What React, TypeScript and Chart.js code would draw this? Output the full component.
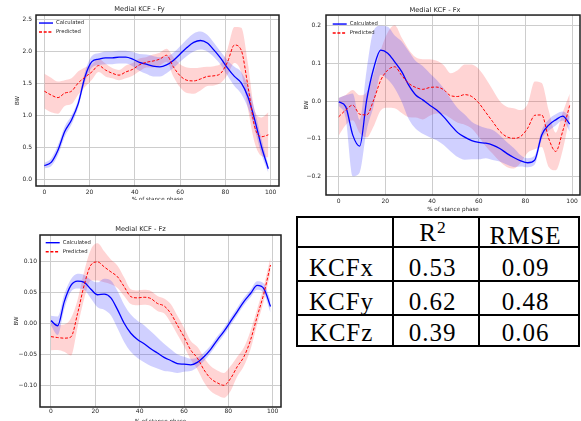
import React, { useEffect, useRef } from "react";
import { Chart, registerables } from "chart.js";

Chart.register(...registerables);

// ---------- data (x = % of stance phase) ----------
const stance = [0, 3, 6, 9, 12, 15, 18, 21, 24, 27, 30, 33, 36, 39, 42, 45, 48, 51, 54, 57, 60, 63, 66, 69, 72, 75, 78, 81, 84, 87, 90, 93, 96, 99];
const xTicks = [0, 20, 40, 60, 80, 100];

const fyCalcMean = [0.22, 0.27, 0.46, 0.75, 0.93, 1.19, 1.61, 1.84, 1.88, 1.9, 1.9, 1.91, 1.91, 1.88, 1.83, 1.8, 1.77, 1.76, 1.79, 1.86, 1.96, 2.06, 2.14, 2.17, 2.13, 2.02, 1.89, 1.74, 1.61, 1.51, 1.29, 0.93, 0.51, 0.17];
const fyCalcSd = [0.04, 0.06, 0.08, 0.08, 0.07, 0.06, 0.08, 0.09, 0.09, 0.1, 0.1, 0.1, 0.1, 0.11, 0.13, 0.15, 0.16, 0.15, 0.13, 0.12, 0.12, 0.13, 0.14, 0.14, 0.13, 0.11, 0.1, 0.12, 0.15, 0.17, 0.17, 0.15, 0.12, 0.06];
const fyPredMean = [1.38, 1.32, 1.28, 1.35, 1.38, 1.51, 1.6, 1.68, 1.78, 1.71, 1.66, 1.63, 1.68, 1.72, 1.79, 1.83, 1.85, 1.88, 1.94, 1.76, 1.62, 1.55, 1.54, 1.57, 1.61, 1.62, 1.66, 1.84, 2.1, 2.02, 1.45, 0.82, 0.67, 0.7];
const fyPredSd = [0.27, 0.27, 0.25, 0.2, 0.2, 0.18, 0.15, 0.12, 0.1, 0.1, 0.08, 0.08, 0.1, 0.1, 0.1, 0.08, 0.1, 0.1, 0.1, 0.15, 0.18, 0.2, 0.2, 0.18, 0.15, 0.15, 0.15, 0.2, 0.28, 0.35, 0.35, 0.25, 0.3, 0.35];
const fyTicks = [0, 0.5, 1, 1.5, 2, 2.5];

const fxCalcMean = [-0.002, -0.015, -0.09, -0.12, 0.003, 0.087, 0.135, 0.127, 0.104, 0.078, 0.042, 0.016, 0.003, -0.011, -0.024, -0.042, -0.064, -0.084, -0.096, -0.105, -0.11, -0.112, -0.117, -0.126, -0.139, -0.15, -0.159, -0.164, -0.157, -0.09, -0.064, -0.05, -0.04, -0.061];
const fxCalcSd = [0.01, 0.03, 0.11, 0.07, 0.08, 0.1, 0.065, 0.07, 0.07, 0.08, 0.09, 0.09, 0.09, 0.085, 0.08, 0.075, 0.07, 0.065, 0.06, 0.05, 0.045, 0.04, 0.04, 0.035, 0.03, 0.025, 0.015, 0.012, 0.012, 0.012, 0.015, 0.015, 0.012, 0.02];
const fxPredMean = [-0.042, -0.024, -0.011, -0.035, -0.037, 0.003, 0.055, 0.082, 0.091, 0.068, 0.047, 0.036, 0.031, 0.036, 0.037, 0.03, 0.014, 0.012, 0.017, 0.012, -0.005, -0.03, -0.055, -0.08, -0.095, -0.099, -0.094, -0.072, -0.038, -0.037, -0.1, -0.134, -0.08, -0.011];
const fxPredSd = [0.05, 0.04, 0.04, 0.05, 0.06, 0.07, 0.08, 0.1, 0.11, 0.1, 0.09, 0.08, 0.08, 0.075, 0.07, 0.065, 0.06, 0.07, 0.08, 0.085, 0.09, 0.09, 0.085, 0.08, 0.08, 0.08, 0.07, 0.065, 0.09, 0.085, 0.075, 0.05, 0.05, 0.03];
const fxTicks = [-0.2, -0.1, 0, 0.1, 0.2];

const fzCalcMean = [0.0043, -0.004, 0.035, 0.061, 0.068, 0.066, 0.055, 0.046, 0.047, 0.041, 0.022, 0.0, -0.016, -0.026, -0.033, -0.041, -0.048, -0.055, -0.06, -0.065, -0.066, -0.067, -0.063, -0.054, -0.042, -0.027, -0.013, 0.003, 0.019, 0.035, 0.048, 0.061, 0.056, 0.027];
const fzCalcSd = [0.008, 0.015, 0.012, 0.01, 0.012, 0.012, 0.015, 0.02, 0.025, 0.028, 0.03, 0.03, 0.03, 0.03, 0.03, 0.028, 0.025, 0.022, 0.018, 0.015, 0.012, 0.01, 0.008, 0.007, 0.006, 0.006, 0.006, 0.006, 0.006, 0.006, 0.006, 0.007, 0.008, 0.01];
const fzPredMean = [-0.0215, -0.023, -0.024, -0.022, 0.016, 0.062, 0.094, 0.099, 0.091, 0.083, 0.075, 0.059, 0.043, 0.041, 0.042, 0.04, 0.032, 0.028, 0.016, -0.003, -0.022, -0.043, -0.056, -0.075, -0.089, -0.096, -0.1, -0.089, -0.07, -0.054, -0.027, 0.011, 0.048, 0.094];
const fzPredSd = [0.022, 0.02, 0.022, 0.03, 0.022, 0.022, 0.025, 0.03, 0.025, 0.02, 0.018, 0.015, 0.012, 0.012, 0.012, 0.012, 0.012, 0.012, 0.015, 0.015, 0.015, 0.015, 0.018, 0.02, 0.02, 0.02, 0.02, 0.02, 0.016, 0.015, 0.015, 0.012, 0.012, 0.012];
const fzTicks = [-0.1, -0.05, 0, 0.05, 0.1];

const tableRowNames = ["KCFx", "KCFy", "KCFz"];
const r2Values = ["0.53", "0.62", "0.39"];
const rmseValues = ["0.09", "0.48", "0.06"];

// ---------- layout / style ----------
const FONT = '"DejaVu Sans", sans-serif';
const TEXT = "#262626";

type Spec = {
  title: string;
  calcMean: number[]; calcSd: number[]; predMean: number[]; predSd: number[];
  yTicks: number[]; decimals: number;
  xMin: number; xMax: number; yMin: number; yMax: number;
  left: number; top: number; W: number; H: number;
  plot: { l: number; t: number; r: number; b: number };
  titlePad: { top: number; bottom: number };
  yTickPad: number; xTickPad: number; yTitlePad: number; xTitlePadBottom: number;
  legendDx: number; legendDy: number; z: number;
};

const specs: Spec[] = [
  {
    title: "Medial KCF - Fy", calcMean: fyCalcMean, calcSd: fyCalcSd, predMean: fyPredMean, predSd: fyPredSd,
    yTicks: fyTicks, decimals: 1, xMin: -3.7, xMax: 103.7, yMin: -0.098, yMax: 2.567,
    left: 0, top: 0, W: 290, H: 210, plot: { l: 36, t: 15, r: 279, b: 186 },
    titlePad: { top: 5, bottom: 2 }, yTickPad: 4, xTickPad: 2.4, yTitlePad: 14, xTitlePadBottom: 6.6,
    legendDx: 3, legendDy: 8, z: 0,
  },
  {
    title: "Medial KCF - Fx", calcMean: fxCalcMean, calcSd: fxCalcSd, predMean: fxPredMean, predSd: fxPredSd,
    yTicks: fxTicks, decimals: 1, xMin: -5.44, xMax: 103.4, yMin: -0.2497, yMax: 0.2284,
    left: 290, top: 0, W: 291, H: 215, plot: { l: 36, t: 15, r: 290, b: 195 },
    titlePad: { top: 6, bottom: 1 }, yTickPad: 5, xTickPad: 3, yTitlePad: 12.8, xTitlePadBottom: 2.3,
    legendDx: 6.7, legendDy: 9, z: 0,
  },
  {
    title: "Medial KCF - Fz", calcMean: fzCalcMean, calcSd: fzCalcSd, predMean: fzPredMean, predSd: fzPredSd,
    yTicks: fzTicks, decimals: 2, xMin: -4.96, xMax: 103.74, yMin: -0.135, yMax: 0.1424,
    left: 0, top: 200, W: 290, H: 230, plot: { l: 40, t: 35, r: 281, b: 207 },
    titlePad: { top: 25.3, bottom: 1.66 }, yTickPad: 3, xTickPad: 1, yTitlePad: 13, xTitlePadBottom: 5.3,
    legendDx: 5.7, legendDy: 7.7, z: 1,
  },
];

const fmt = (v: number, d: number) => {
  const s = Math.abs(v) < 1e-9 ? (0).toFixed(d) : v.toFixed(d);
  return s.replace("-", "\u2212");
};

function buildConfig(s: Spec): any {
  const pts = (arr: number[]) => stance.map((x, i) => ({ x, y: arr[i] }));
  const band = (m: number[], sd: number[], sign: number) => stance.map((x, i) => ({ x, y: m[i] + sign * sd[i] }));
  const common = { pointRadius: 0, cubicInterpolationMode: "monotone" as const };

  const frameLegend = {
    id: "frameLegend",
    afterDraw(chart: any) {
      const { ctx, chartArea: a } = chart;
      ctx.save();
      ctx.strokeStyle = "#1e1e1e";
      ctx.lineWidth = 1.5;
      ctx.strokeRect(a.left, a.top, a.right - a.left, a.bottom - a.top);
      const items = [
        { ds: chart.data.datasets[1], dash: [] as number[] },
        { ds: chart.data.datasets[0], dash: [3, 1.7] },
      ];
      const x0 = a.left + s.legendDx;
      items.forEach((it, i) => {
        const y = a.top + s.legendDy + i * 9;
        ctx.beginPath();
        ctx.setLineDash(it.dash);
        ctx.strokeStyle = it.ds.borderColor;
        ctx.lineWidth = 1.4;
        ctx.moveTo(x0, y);
        ctx.lineTo(x0 + 14, y);
        ctx.stroke();
        ctx.setLineDash([]);
        ctx.fillStyle = TEXT;
        ctx.font = `5.3px ${FONT}`;
        ctx.textAlign = "left";
        ctx.textBaseline = "middle";
        ctx.fillText(it.ds.label, x0 + 17, y);
      });
      ctx.restore();
    },
  };

  const grid = { color: "#cdcdcd", lineWidth: 1, drawTicks: false };
  const tickFont = { family: FONT, size: 6 };
  const labelFont = { family: FONT, size: 5.6 };

  return {
    type: "line",
    data: {
      datasets: [
        { label: "Predicted", data: pts(s.predMean), borderColor: "#ff0000", borderWidth: 1, borderDash: [3, 1.7], fill: false, ...common },
        { label: "Calculated", data: pts(s.calcMean), borderColor: "#0000ff", borderWidth: 1.3, fill: false, ...common },
        { label: "calc+sd", data: band(s.calcMean, s.calcSd, 1), borderColor: "transparent", borderWidth: 0, fill: false, ...common },
        { label: "calc-sd", data: band(s.calcMean, s.calcSd, -1), borderColor: "transparent", borderWidth: 0, fill: 2, backgroundColor: "rgba(40,40,255,0.22)", ...common },
        { label: "pred+sd", data: band(s.predMean, s.predSd, 1), borderColor: "transparent", borderWidth: 0, fill: false, ...common },
        { label: "pred-sd", data: band(s.predMean, s.predSd, -1), borderColor: "transparent", borderWidth: 0, fill: 4, backgroundColor: "rgba(255,40,40,0.2)", ...common },
      ],
    },
    options: {
      responsive: false,
      animation: false,
      devicePixelRatio: 1,
      layout: { padding: { left: 0, top: 0, bottom: 0, right: s.W - s.plot.r } },
      plugins: {
        legend: { display: false },
        tooltip: { enabled: false },
        title: {
          display: true, text: s.title, color: TEXT,
          font: { family: FONT, size: 6.7, weight: "normal", lineHeight: 1.2 },
          padding: s.titlePad,
        },
      },
      scales: {
        x: {
          type: "linear", min: s.xMin, max: s.xMax,
          afterBuildTicks: (sc: any) => { sc.ticks = xTicks.map((v) => ({ value: v })); },
          afterFit: (sc: any) => { sc.height = s.H - s.plot.b; },
          grid, border: { display: false },
          ticks: { padding: s.xTickPad, color: TEXT, font: tickFont, maxRotation: 0, autoSkip: false, callback: (v: any) => String(v) },
          title: { display: true, text: "% of stance phase", color: TEXT, font: labelFont, padding: { top: 0, bottom: s.xTitlePadBottom } },
        },
        y: {
          type: "linear", min: s.yMin, max: s.yMax,
          afterBuildTicks: (sc: any) => { sc.ticks = s.yTicks.map((v) => ({ value: v })); },
          afterFit: (sc: any) => { sc.width = s.plot.l; },
          grid, border: { display: false },
          ticks: { padding: s.yTickPad, color: TEXT, font: tickFont, autoSkip: false, callback: (v: any) => fmt(Number(v), s.decimals) },
          title: { display: true, text: "BW", color: TEXT, font: labelFont, padding: { top: s.yTitlePad, bottom: 0 } },
        },
      },
    },
    plugins: [frameLegend],
  };
}

function KcfChart({ spec }: { spec: Spec }) {
  const ref = useRef<HTMLCanvasElement>(null);
  useEffect(() => {
    const chart = new Chart(ref.current as HTMLCanvasElement, buildConfig(spec));
    return () => chart.destroy();
  }, [spec]);
  return (
    <canvas
      ref={ref}
      width={spec.W}
      height={spec.H}
      style={{ position: "absolute", left: spec.left, top: spec.top, width: spec.W, height: spec.H, background: "#fff", zIndex: spec.z, display: "block" }}
    />
  );
}

const cell: React.CSSProperties = {
  border: "2px solid #000",
  padding: "0 7px 0 0",
  textAlign: "center",
  verticalAlign: "bottom",
  lineHeight: "25px",
  whiteSpace: "nowrap",
};

export default function App() {
  return (
    <div style={{ position: "absolute", left: 0, top: 0, width: 581, height: 421, overflow: "hidden", background: "#fff" }}>
      {specs.map((s) => <KcfChart key={s.title} spec={s} />)}
      <table
        style={{
          position: "absolute", left: 296, top: 216, width: 282, borderCollapse: "collapse", tableLayout: "fixed",
          fontFamily: '"Liberation Serif", "Times New Roman", serif', fontSize: 25, letterSpacing: 1, color: "#000", zIndex: 2,
        }}
      >
        <colgroup>
          <col style={{ width: 96 }} />
          <col style={{ width: 86 }} />
          <col style={{ width: 100 }} />
        </colgroup>
        <tbody>
          <tr style={{ height: 30 }}>
            <td style={{ ...cell, lineHeight: "21px" }}></td>
            <td style={{ ...cell, lineHeight: "21px" }}>
              R<sup style={{ fontSize: "0.7em", verticalAlign: "baseline", position: "relative", top: "-0.45em", letterSpacing: 0 }}>2</sup>
            </td>
            <td style={{ ...cell, lineHeight: "21px" }}>RMSE</td>
          </tr>
          {tableRowNames.map((name, i) => (
            <tr key={name} style={{ height: i === 2 ? 31 : 34 }}>
              <td style={cell}>{name}</td>
              <td style={cell}>{r2Values[i]}</td>
              <td style={cell}>{rmseValues[i]}</td>
            </tr>
          ))}
        </tbody>
      </table>
    </div>
  );
}
